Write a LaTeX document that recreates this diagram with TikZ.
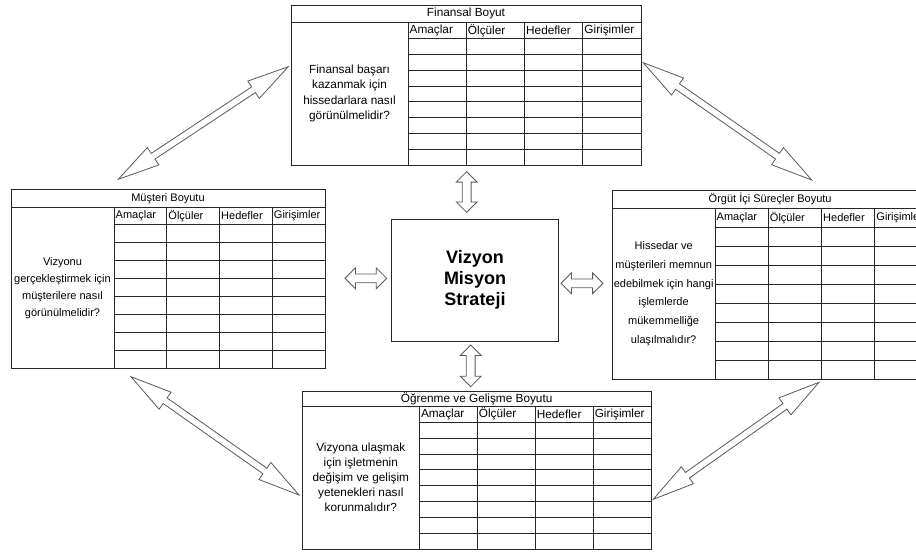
\documentclass[tikz,border=0pt]{standalone}
\usepackage{fontspec}
\setmainfont{Liberation Sans}
\usetikzlibrary{calc,shapes.arrows}

\tikzset{
  grid/.style={draw=black!85, line width=0.9pt},
  title/.style={inner sep=0pt},
  head/.style={anchor=west, inner sep=1.5pt},
  ask/.style={align=center, inner sep=0pt},
  core/.style={draw=black!85, line width=1pt, minimum width=166.6pt, minimum height=122pt,
    align=center, font=\fontsize{18}{21.2}\selectfont\bfseries},
  longarr/.style={double arrow, draw=black!65, fill=white, line width=0.8pt,
    inner xsep=0pt, inner ysep=3pt, double arrow head extend=7pt, double arrow tip angle=28},
  shortarr/.style={double arrow, draw=black!65, fill=white, line width=0.8pt,
    inner xsep=0pt, inner ysep=4pt, double arrow head extend=6pt, double arrow tip angle=90},
}

% x0, y0, x1, y1, title bottom, head bottom, text column, name, title
\newcommand{\bscgrid}[9]{%
  \draw[grid] (#1,#2) rectangle (#3,#4);
  \draw[grid] (#1,#5) -- (#3,#5);
  \draw[grid] (#7,#5) -- (#7,#4);
  \foreach \c in {1,2,3}
    \draw[grid] ({#7+\c*(#3-#7)/4},#5) -- ({#7+\c*(#3-#7)/4},#4);
  \foreach \r in {0,...,7}
    \draw[grid] (#7,{#6+\r*(#4-#6)/8}) -- (#3,{#6+\r*(#4-#6)/8});
  \foreach \h [count=\c from 0] in {Amaçlar,Ölçüler,Hedefler,Girişimler}
    \node[head] (#8-h\c) at ({#7+\c*(#3-#7)/4},{(#5+#6)/2}) {\h};
  \node[title] (#8) at ({(#1+#3)/2},{(#2+#5)/2}) {#9};
  \coordinate (#8-ask) at ({(#1+#7)/2},{(#5+#4)/2});
}

% style, from, to, name
\newcommand{\linkarrow}[4]{%
  \path let \p1=(#2), \p2=(#3), \n1={atan2(\y2-\y1,\x2-\x1)}, \n2={veclen(\x2-\x1,\y2-\y1)} in
    node[#1, rotate=\n1, minimum height=\n2] (#4) at ($(#2)!0.5!(#3)$) {};
}

\begin{document}
\begin{tikzpicture}[x=1pt,y=-1pt]
	\clip (0,0) rectangle (916,552);

	\begin{scope}[font=\fontsize{11.8}{15.3}\selectfont]
		\bscgrid{291}{5}{641}{165}{22}{38.7}{408}{fin}{Finansal Boyut}
		\node[ask] (fin-q) at (fin-ask) {Finansal başarı\\kazanmak için\\hissedarlara nasıl\\görünülmelidir?};
	\end{scope}
	\begin{scope}[font=\fontsize{11}{16.8}\selectfont]
		\bscgrid{11}{189}{325}{368.3}{207.7}{224.3}{114}{mus}{Müşteri Boyutu}
		\node[ask] (mus-q) at (mus-ask) {Vizyonu\\gerçekleştirmek için\\müşterilere nasıl\\görünülmelidir?};
	\end{scope}
	\begin{scope}[font=\fontsize{11}{18.7}\selectfont]
		\bscgrid{612.3}{190}{928}{379.3}{208.3}{227.7}{715}{org}{Örgüt İçi Süreçler Boyutu}
		\node[ask] (org-q) at (org-ask) {Hissedar ve\\müşterileri memnun\\edebilmek için hangi\\işlemlerde\\mükemmelliğe\\ulaşılmalıdır?};
	\end{scope}
	\begin{scope}[font=\fontsize{11.8}{15}\selectfont]
		\bscgrid{302.3}{391.7}{651}{549.3}{406}{422.3}{419.3}{ogr}{Öğrenme ve Gelişme Boyutu}
		\node[ask] (ogr-q) at (ogr-ask) {Vizyona ulaşmak\\için işletmenin\\değişim ve gelişim\\yetenekleri nasıl\\korunmalıdır?};
	\end{scope}

	\node[core] (core) at (475,280) {Vizyon\\Misyon\\Strateji};

	% arrow ends
	\coordinate (fin-w) at (288.3,66.7);
	\coordinate (mus-n) at (118.3,179.3);
	\coordinate (fin-e) at (643.3,62.7);
	\coordinate (org-n) at (811.7,180);
	\coordinate (mus-s) at (131,376.7);
	\coordinate (ogr-w) at (299,495);
	\coordinate (ogr-e) at (653.3,499.3);
	\coordinate (org-s) at (819,382.3);
	\coordinate (fin-s) at (466.7,171.7);
	\coordinate (core-n) at (466.7,212.3);
	\coordinate (core-s) at (470.7,345);
	\coordinate (ogr-n) at (470.7,386.7);
	\coordinate (mus-e) at (345,278.3);
	\coordinate (core-w) at (386.7,278.3);
	\coordinate (core-e) at (561,283.3);
	\coordinate (org-w) at (603,283.3);

	\linkarrow{longarr}{mus-n}{fin-w}{a1}
	\linkarrow{longarr}{fin-e}{org-n}{a2}
	\linkarrow{longarr}{mus-s}{ogr-w}{a3}
	\linkarrow{longarr}{ogr-e}{org-s}{a4}
	\linkarrow{shortarr}{fin-s}{core-n}{a5}
	\linkarrow{shortarr}{core-s}{ogr-n}{a6}
	\linkarrow{shortarr}{mus-e}{core-w}{a7}
	\linkarrow{shortarr}{core-e}{org-w}{a8}
\end{tikzpicture}
\end{document}
